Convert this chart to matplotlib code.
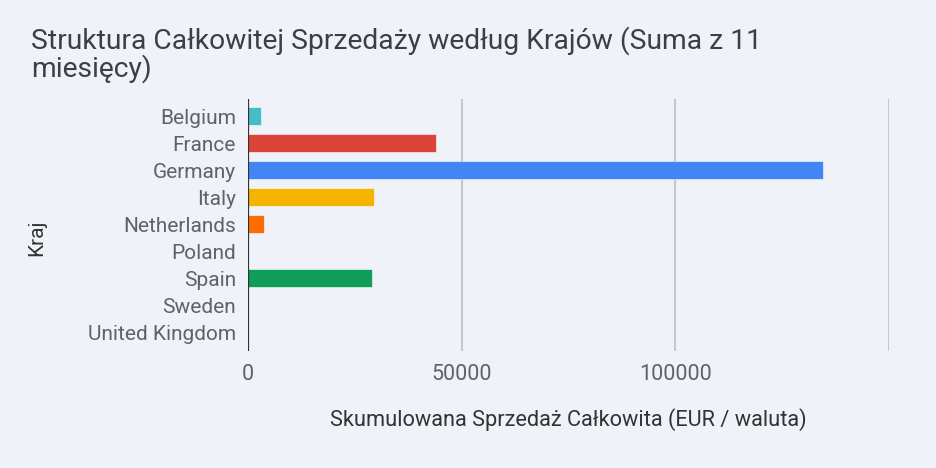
import matplotlib

matplotlib.use("Agg")
import matplotlib.pyplot as plt

# --- dane ---
countries = ["Belgium", "France", "Germany", "Italy", "Netherlands",
             "Poland", "Spain", "Sweden", "United Kingdom"]
sales = [2950, 43900, 134500, 29450, 3750, 0, 29050, 0, 0]
colors = ["#46bdc6", "#db4437", "#4285f4", "#f4b400", "#ff6d01",
          "#9e9e9e", "#0f9d58", "#9e9e9e", "#9e9e9e"]
xticks = [0, 50000, 100000]
xmax = 150000

BG = "#eff3f9"
plt.rcParams["font.family"] = ["Roboto", "DejaVu Sans"]

W, H = 936, 468
fig = plt.figure(figsize=(W / 100, H / 100), dpi=100, facecolor=BG)
ax = fig.add_axes([248 / W, 1 - 351 / H, (889 - 248) / W, (351 - 99) / H])
ax.set_facecolor(BG)

ypos = list(range(len(countries)))
ax.barh(ypos, sales, height=0.65, color=colors, edgecolor="white",
        linewidth=0.4, zorder=3)

ax.set_xlim(0, xmax)
ax.set_ylim(len(countries) - 0.3, -0.63)
ax.set_yticks(ypos)
ax.set_yticklabels(countries)
ax.set_xticks(xticks)
ax.set_xticklabels([str(v) for v in xticks])

for g in [50000, 100000, 150000]:
    ax.axvline(g, color="#c4c7cb", lw=1.5, zorder=1)
ax.axvline(0, color="#333333", lw=1.6, zorder=4)

for s in ax.spines.values():
    s.set_visible(False)
ax.tick_params(axis="both", length=0, labelsize=15, colors="#5f6368")
ax.tick_params(axis="x", labelsize=15.5, pad=9)
ax.tick_params(axis="y", pad=8.6)

ax.set_xlabel("Skumulowana Sprzedaż Całkowita (EUR / waluta)", fontsize=15.7,
              color="#333333", va="top")
ax.xaxis.set_label_coords(0.5, -0.228)
ax.set_ylabel("Kraj", fontsize=15, color="#333333")
ax.yaxis.set_label_coords(-0.314, 0.45)

fig.text(31 / W, 1 - 77 / H,
         "Struktura Całkowitej Sprzedaży według Krajów (Suma z 11\nmiesięcy)",
         fontsize=20.3, color="#3c4043", ha="left", va="baseline",
         linespacing=0.98)

fig.savefig("out.png", dpi=100, facecolor=BG)
